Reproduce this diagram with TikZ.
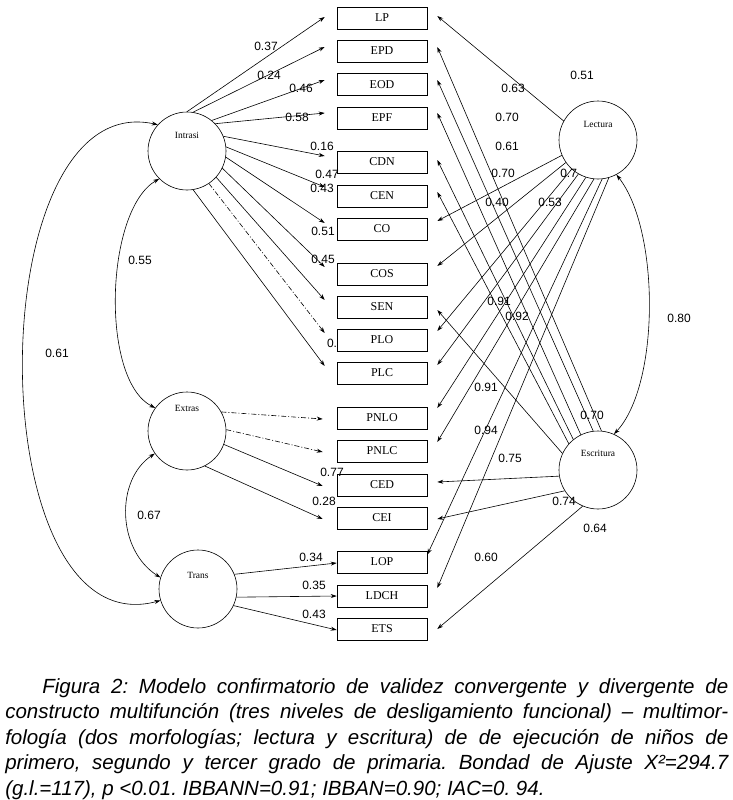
\documentclass[tikz,border=0pt]{standalone}
\usepackage{fontspec}
\setmainfont{Liberation Serif}
\newfontfamily\numfont{Liberation Sans}
\newfontfamily\capfont{Liberation Sans}
\usetikzlibrary{arrows.meta}
\frenchspacing
\begin{document}
\begin{tikzpicture}[x=1pt,y=-1pt,
  line width=0.6pt,
  obs/.style={draw, minimum width=90pt, minimum height=22pt, inner sep=0pt, font=\fontsize{12}{12}\selectfont},
  lat/.style={draw, circle, minimum size=78pt, inner sep=0pt},
  lattxt/.style={font=\fontsize{9.5}{10}\selectfont, inner sep=0pt},
  coef/.style={font=\numfont\fontsize{12}{12}\selectfont, inner sep=0pt},
  arr/.style={-{Stealth[length=6pt,width=4pt]}},
  biarr/.style={{Stealth[length=6pt,width=4pt]}-{Stealth[length=6pt,width=4pt]}},
  ddash/.style={dash pattern=on 5pt off 2pt on 1pt off 2pt},
  capline/.style={font=\capfont\itshape\fontsize{20.5}{22}\selectfont, inner sep=0pt, anchor=base west}
]
\useasboundingbox (0,0) rectangle (733,800);

% observed variables
\node[obs] (LP)   at (382,18)  {LP};
\node[obs] (EPD)  at (382,51)  {EPD};
\node[obs] (EOD)  at (382,84.5){EOD};
\node[obs] (EPF)  at (382,118) {EPF};
\node[obs] (CDN)  at (382,162) {CDN};
\node[obs] (CEN)  at (382,196) {CEN};
\node[obs] (CO)   at (382,229) {CO};
\node[obs] (COS)  at (382,274) {COS};
\node[obs] (SEN)  at (382,307) {SEN};
\node[obs] (PLO)  at (382,340) {PLO};
\node[obs] (PLC)  at (382,373) {PLC};
\node[obs] (PNLO) at (382,418) {PNLO};
\node[obs] (PNLC) at (382,451) {PNLC};
\node[obs] (CED)  at (382,485) {CED};
\node[obs] (CEI)  at (382,518) {CEI};
\node[obs] (LOP)  at (382,562) {LOP};
\node[obs] (LDCH) at (382,596) {LDCH};
\node[obs] (ETS)  at (382,629) {ETS};

% latent variables
\node[lat, label={[lattxt,yshift=16pt]center:Intrasi}] (intrasi) at (187,151) {};
\node[lat, label={[lattxt,yshift=23pt]center:Extras}] (extras) at (187,431) {};
\node[lat, label={[lattxt,yshift=14pt]center:Trans}] (trans) at (198,589) {};
\node[lat, label={[lattxt,yshift=16pt]center:Lectura}] (lect) at (598,140) {};
\node[lat, label={[lattxt,yshift=17pt]center:Escritura}] (esc) at (598,470) {};

% Intrasi
\draw[arr] (intrasi.90)  -- ([xshift=-12pt,yshift=1pt]LP.west);
\draw[arr] (intrasi.81)  -- ([xshift=-12pt,yshift=4pt]EPD.west);
\draw[arr] (intrasi.51)  -- ([xshift=-12pt,yshift=4.5pt]EOD.west);
\draw[arr] (intrasi.44)  -- ([xshift=-12pt,yshift=5pt]EPF.west);
\draw[arr] (intrasi.22)  -- ([xshift=-12pt,yshift=6pt]CDN.west);
\draw[arr] (intrasi.6)   -- ([xshift=-12pt,yshift=9pt]CEN.west);
\draw[arr] (intrasi.-9)  -- ([xshift=-12pt,yshift=6pt]CO.west);
\draw[arr] (intrasi.-26) -- ([xshift=-12pt,yshift=7pt]COS.west);
\draw[arr] (intrasi.-42) -- ([xshift=-12pt,yshift=7pt]SEN.west);
\draw[arr,ddash] (intrasi.-56) -- ([xshift=-12pt,yshift=7pt]PLO.west);
\draw[arr] (intrasi.-81) -- ([xshift=-12pt,yshift=7pt]PLC.west);

% Extras
\draw[arr,ddash] (extras.29) -- ([xshift=-14pt,yshift=-1pt]PNLO.west);
\draw[arr,ddash] (extras.2)  -- ([xshift=-14pt,yshift=-1pt]PNLC.west);
\draw[arr] (extras.-20) -- ([xshift=-14pt,yshift=-1pt]CED.west);
\draw[arr] (extras.-63) -- ([xshift=-14pt,yshift=-1pt]CEI.west);

% Trans
\draw[arr] (trans.22)  -- ([yshift=-1pt]LOP.west);
\draw[arr] (trans.-12) -- (LDCH.west);
\draw[arr] (trans.-25) -- ([yshift=-1pt]ETS.west);

% Lectura
\draw[arr] (lect.151) -- ([xshift=10pt,yshift=2pt]LP.east);
\draw[arr] (lect.203) -- ([xshift=10pt,yshift=8pt]CO.east);
\draw[arr] (lect.215) -- ([xshift=10pt,yshift=8pt]COS.east);
\draw[arr] (lect.228) -- ([xshift=10pt,yshift=9pt]PLO.east);
\draw[arr] (lect.240) -- ([xshift=10pt,yshift=8pt]PLC.east);
\draw[arr] (lect.252) -- ([xshift=10pt,yshift=10pt]PNLO.east);
\draw[arr] (lect.264) -- ([xshift=10pt,yshift=9pt]PNLC.east);
\draw[arr] (lect.276) -- ([yshift=-4pt]LOP.north east);
\draw[arr] (lect.286) -- ([xshift=10pt,yshift=8pt]LDCH.east);

% Escritura
\draw[arr] (esc.85)  -- ([xshift=10pt,yshift=4pt]EPD.east);
\draw[arr] (esc.97)  -- ([xshift=10pt,yshift=4.5pt]EOD.east);
\draw[arr] (esc.116) -- ([xshift=10pt,yshift=5pt]EPF.east);
\draw[arr] (esc.129) -- ([xshift=10pt,yshift=2pt]CDN.east);
\draw[arr] (esc.138) -- ([xshift=10pt,yshift=4pt]CEN.east);
\draw[arr] (esc.155) -- ([xshift=10pt,yshift=-3pt]SEN.east);
\draw[arr] (esc.189) -- ([xshift=10pt,yshift=3pt]CED.east);
\draw[arr] (esc.212) -- ([xshift=10pt,yshift=-1pt]CEI.east);
\draw[arr] (esc.247) -- ([xshift=10pt]ETS.east);

% correlations
\draw[biarr] (lect.298) .. controls (660,230) and (660,385) .. (esc.66);
\draw[biarr] (intrasi.225) .. controls (105,210) and (100,380) .. (extras.144);
\draw[biarr] (intrasi.138) .. controls (-22,85) and (-22,650) .. (trans.197);
\draw[biarr] (extras.215) .. controls (115,480) and (117,550) .. (trans.163);

% coefficients left
\node[coef] (c1) at (266,46) {0.37};
\node[coef] (c2) at (269,75) {0.24};
\node[coef] (c3) at (301,88) {0.46};
\node[coef] (c4) at (297,117) {0.58};
\node[coef] (c5) at (322,146) {0.16};
\node[coef] (c6) at (327,174) {0.47};
\node[coef] (c7) at (322,188) {0.43};
\node[coef] (c8) at (323,231) {0.51};
\node[coef] (c9) at (323,259) {0.45};
\node[coef] (c10) at (332,343) {0.};
\node[coef] (c11) at (140,260) {0.55};
\node[coef] (c12) at (57,353) {0.61};
\node[coef] (c13) at (149,515) {0.67};
\node[coef] (c14) at (332,472) {0.77};
\node[coef] (c15) at (324,501) {0.28};
\node[coef] (c16) at (311,557) {0.34};
\node[coef] (c17) at (314,585) {0.35};
\node[coef] (c18) at (314,614) {0.43};
% coefficients right
\node[coef] (r1) at (582,75) {0.51};
\node[coef] (r2) at (513,88) {0.63};
\node[coef] (r3) at (507,117) {0.70};
\node[coef] (r4) at (507,146) {0.61};
\node[coef] (r5) at (503,173) {0.70};
\node[coef,anchor=west] (r6) at (560,173) {0.7};
\node[coef] (r7) at (497,202) {0.40};
\node[coef] (r8) at (550,202) {0.53};
\node[coef] (r9) at (499,301) {0.91};
\node[coef] (r10) at (517,316) {0.92};
\node[coef] (r11) at (679,318) {0.80};
\node[coef] (r12) at (486,387) {0.91};
\node[coef] (r13) at (592,415) {0.70};
\node[coef] (r14) at (486,430) {0.94};
\node[coef] (r15) at (510,458) {0.75};
\node[coef] (r16) at (564,501) {0.74};
\node[coef] (r17) at (595,528) {0.64};
\node[coef] (r18) at (486,557) {0.60};

% caption
\node[capline] (cap1) at (42,693) {\makebox[686pt][s]{Figura 2: Modelo confirmatorio de validez convergente y divergente de}};
\node[capline] (cap2) at (5,718.5) {\makebox[723pt][s]{constructo multifunción (tres niveles de desligamiento funcional) – multimor-}};
\node[capline] (cap3) at (5,744) {\makebox[723pt][s]{fología (dos morfologías; lectura y escritura) de de ejecución de niños de}};
\node[capline] (cap4) at (5,769.5) {\makebox[723pt][s]{primero, segundo y tercer grado de primaria. Bondad de Ajuste X²=294.7}};
\node[capline] (cap5) at (5,795) {(g.l.=117), p <0.01. IBBANN=0.91; IBBAN=0.90; IAC=0. 94.};
\end{tikzpicture}
\end{document}
